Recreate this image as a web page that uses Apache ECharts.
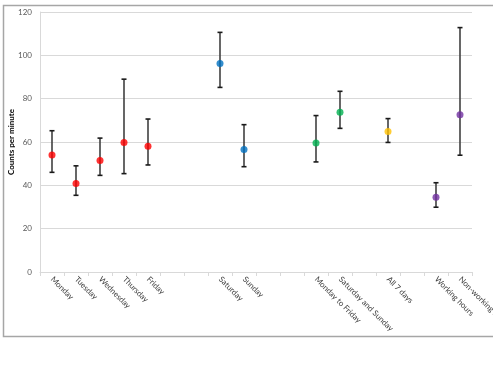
<!DOCTYPE html>
<html><head><meta charset="utf-8">
<script src="https://cdn.jsdelivr.net/npm/echarts@6/dist/echarts.min.js"></script>
<style>html,body{margin:0;padding:0;background:#fff}#c{width:493px;height:375px}</style>
</head><body><div id="c"></div>
<script>
const categories = ['Monday','Tuesday','Wednesday','Thursday','Friday','','','Saturday','Sunday','','','Monday to Friday','Saturday and Sunday','','All 7 days','','Working hours','Non-working hours'];
const means = [54, 40.8, 51.5, 59.8, 58, null, null, 96.2, 56.5, null, null, 59.5, 73.7, null, 64.8, null, 34.5, 72.6];
const lower = [46, 35.4, 44.6, 45.4, 49.4, null, null, 85.2, 48.6, null, null, 50.8, 66.3, null, 59.8, null, 29.9, 53.9];
const upper = [65.2, 49, 61.8, 89, 70.6, null, null, 110.6, 68, null, null, 72.2, 83.4, null, 70.8, null, 41.2, 112.8];
const groupColors = ['#FF0000','#FF0000','#FF0000','#FF0000','#FF0000', null, null, '#0070C0','#0070C0', null, null, '#00B050','#00B050', null, '#FFC000', null, '#7030A0','#7030A0'];
const yTicks = {min: 0, max: 120, interval: 20};

const chart = echarts.init(document.getElementById('c'), null, {renderer: 'canvas'});
const font = 'Lato, "Open Sans", sans-serif';
const errData = categories.map((c, i) => means[i] == null ? null : [i, lower[i], upper[i]]).filter(d => d);
const ptData = categories.map((c, i) => means[i] == null ? null : {value: [i, means[i]], itemStyle: {color: groupColors[i]}}).filter(d => d);

chart.setOption({
  animation: false,
  graphic: [{type: 'rect', left: 1, top: 3, shape: {width: 500, height: 331}, style: {fill: 'none', stroke: '#A6A6A6', lineWidth: 1.5}, silent: true, z: 100}],
  grid: {left: 40, right: 21, top: 12, bottom: 103, containLabel: false, outerBoundsMode: 'none'},
  xAxis: {
    type: 'category', data: categories, boundaryGap: true,
    axisLine: {lineStyle: {color: '#D9D9D9'}},
    axisTick: {show: true, alignWithLabel: false, length: 4, lineStyle: {color: '#D9D9D9'}},
    axisLabel: {rotate: -45, interval: 0, fontSize: 8, color: '#404040', fontFamily: font, margin: 6, hideOverlap: false}
  },
  yAxis: {
    type: 'value', min: yTicks.min, max: yTicks.max, interval: yTicks.interval,
    name: 'Counts per minute', nameLocation: 'middle', nameGap: 25, nameRotate: 90, nameMoveOverlap: false,
    nameTextStyle: {fontSize: 8, fontWeight: 'bold', color: '#000', fontFamily: font},
    axisLine: {show: true, lineStyle: {color: '#D9D9D9'}},
    axisTick: {show: false},
    axisLabel: {fontSize: 8, color: '#595959', fontFamily: font, margin: 8},
    splitLine: {lineStyle: {color: '#D9D9D9', width: 1}}
  },
  series: [
    {
      type: 'custom', data: errData, z: 2,
      renderItem: function (params, api) {
        const x = api.value(0);
        const lo = api.coord([x, api.value(1)]);
        const hi = api.coord([x, api.value(2)]);
        const w = 2.5;
        const st = {stroke: '#1a1a1a', lineWidth: 1.6};
        return {type: 'group', children: [
          {type: 'line', shape: {x1: hi[0], y1: hi[1], x2: lo[0], y2: lo[1]}, style: {stroke: '#404040', lineWidth: 1.6}},
          {type: 'line', shape: {x1: hi[0] - w, y1: hi[1], x2: hi[0] + w, y2: hi[1]}, style: st},
          {type: 'line', shape: {x1: lo[0] - w, y1: lo[1], x2: lo[0] + w, y2: lo[1]}, style: st}
        ]};
      }
    },
    {type: 'scatter', data: ptData, symbol: 'circle', symbolSize: 7, z: 3}
  ]
});
</script></body></html>
